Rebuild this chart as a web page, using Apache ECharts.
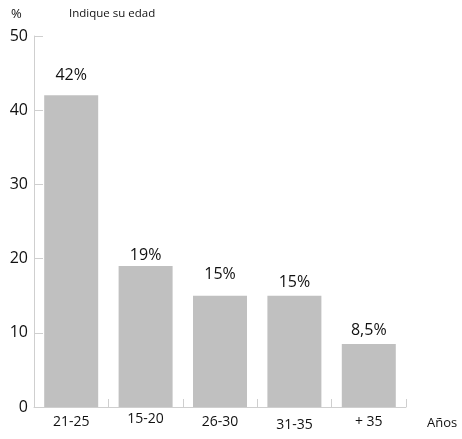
<!DOCTYPE html>
<html>
<head>
<meta charset="utf-8">
<script src="https://cdn.jsdelivr.net/npm/echarts@6/dist/echarts.min.js"></script>
<style>
  html, body { margin: 0; padding: 0; background: #fff; }
  #chart { width: 462px; height: 439px; }
</style>
</head>
<body>
<div id="chart"></div>
<script>
// Age groups and share of respondents (%)
const categories = ['21-25', '15-20', '26-30', '31-35', '+ 35'];
const values = [42, 19, 15, 15, 8.5];
// Vertical nudge for each category label and each value label
const catLabelShift = [0, -3, 0, 3, 0];
const valueLabelGap = [12, 3, 13, 5, 5];
const yTicks = [0, 10, 20, 30, 40, 50];

const FONT = '"Open Sans", "DejaVu Sans", sans-serif';
const chart = echarts.init(document.getElementById('chart'), null, { renderer: 'canvas' });

chart.setOption({
  animation: false,
  textStyle: { fontFamily: FONT },
  grid: { left: 34, right: 56, top: 36, bottom: 32, containLabel: false },
  graphic: [
    { type: 'text', left: 11, top: 8, style: { text: '%', font: '13px ' + FONT, fill: '#111' } },
    { type: 'text', left: 69, top: 8, style: { text: 'Indique su edad', font: '11.5px ' + FONT, fill: '#111' } },
    { type: 'text', left: 427, top: 417, style: { text: 'Años', font: '13px ' + FONT, fill: '#111' } }
  ],
  xAxis: {
    type: 'category',
    data: categories.map((c, i) => ({
      value: c,
      textStyle: { padding: [catLabelShift[i] + 6, 0, 0, 0] }
    })),
    axisLine: { lineStyle: { color: '#cfcfcf', width: 1 } },
    axisTick: { show: true, inside: true, length: 8, lineStyle: { color: '#cfcfcf' } },
    axisLabel: { color: '#111', fontSize: 14, margin: 2 }
  },
  yAxis: {
    type: 'value',
    min: yTicks[0],
    max: yTicks[yTicks.length - 1],
    interval: 10,
    splitLine: { show: false },
    axisLine: { show: true, lineStyle: { color: '#cfcfcf', width: 1 } },
    axisTick: { show: true, inside: true, length: 9, lineStyle: { color: '#cfcfcf' } },
    axisLabel: { color: '#111', fontSize: 16, margin: 6 }
  },
  series: [{
    type: 'bar',
    barWidth: 54,
    itemStyle: { color: '#c0c0c0' },
    data: values.map((v, i) => ({
      value: v,
      label: {
        show: true,
        position: 'top',
        distance: valueLabelGap[i],
        color: '#111',
        fontSize: 16,
        formatter: () => String(v).replace('.', ',') + '%'
      }
    }))
  }]
});
</script>
</body>
</html>
